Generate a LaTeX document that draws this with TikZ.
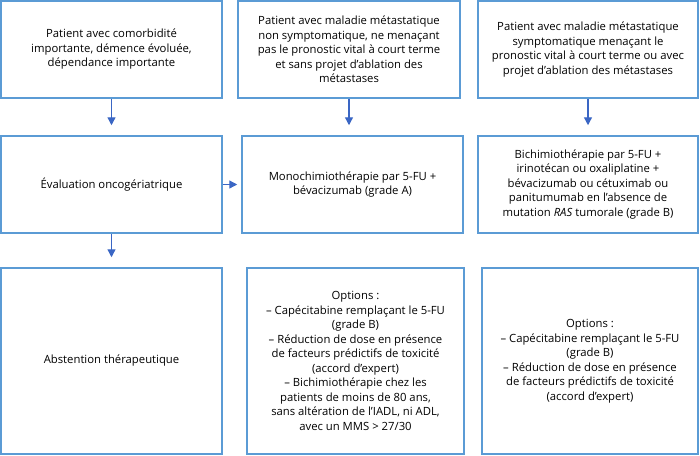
\documentclass[tikz,border=0pt]{standalone}
\usepackage{fontspec}
\setmainfont{Open Sans}
\usetikzlibrary{arrows.meta}
\definecolor{boxblue}{HTML}{5B9BD5}
\definecolor{arrblue}{HTML}{3A66C4}
\tikzset{
  box/.style={draw=boxblue, line width=1.5pt, rectangle, align=center,
    inner sep=0pt, font=\fontsize{11.3}{14.5}\selectfont, text=black},
  arr/.style={draw=arrblue, line width=1.3pt, -{Triangle[length=8pt,width=8pt]}}
}
\begin{document}
\begin{tikzpicture}[x=1pt,y=-1pt]
\useasboundingbox (0,0) rectangle (700,455);
\node[box, minimum width=221pt, minimum height=97pt] (b1) at (111.5,49.5)
  {Patient avec comorbidité\\importante, démence évoluée,\\dépendance importante};
\node[box, minimum width=222pt, minimum height=97pt] (b2) at (349,49.5)
  {Patient avec maladie métastatique\\non symptomatique, ne menaçant\\pas le pronostic vital à court terme\\et sans projet d’ablation des\\métastases};
\node[box, minimum width=220pt, minimum height=97pt] (b3) at (588,49.5)
  {Patient avec maladie métastatique\\symptomatique menaçant le\\pronostic vital à court terme ou avec\\projet d’ablation des métastases};
\node[box, minimum width=221pt, minimum height=97pt] (b4) at (111.5,184.5)
  {Évaluation oncogériatrique};
\node[box, minimum width=221pt, minimum height=97pt] (b5) at (352.5,184.5)
  {Monochimiothérapie par 5-FU +\\bévacizumab (grade A)};
\node[box, minimum width=220pt, minimum height=97pt] (b6) at (588,184.5)
  {Bichimiothérapie par 5-FU +\\irinotécan ou oxaliplatine +\\bévacizumab ou cétuximab ou\\panitumumab en l’absence de\\mutation \textit{RAS} tumorale (grade B)};
\node[box, minimum width=221pt, minimum height=186pt] (b7) at (111.5,361)
  {Abstention thérapeutique};
\node[box, minimum width=217pt, minimum height=186pt] (b8) at (355.5,361)
  {Options :\\– Capécitabine remplaçant le 5-FU\\(grade B)\\– Réduction de dose en présence\\de facteurs prédictifs de toxicité\\(accord d’expert)\\– Bichimiothérapie chez les\\patients de moins de 80 ans,\\sans altération de l’IADL, ni ADL,\\avec un MMS > 27/30};
\node[box, minimum width=216pt, minimum height=186pt] (b9) at (590,361)
  {Options :\\– Capécitabine remplaçant le 5-FU\\(grade B)\\– Réduction de dose en présence\\de facteurs prédictifs de toxicité\\(accord d’expert)};
\draw[arr, shorten >=10pt] (b1.south) -- (b4.north);
\draw[arr, shorten >=10pt] (b2.south) -- (b2.south |- b5.north);
\draw[arr, shorten >=10pt] (b3.south) -- (b6.north);
\draw[arr, shorten >=4pt] (b4.east) -- (b5.west);
\draw[arr, shorten >=10pt] (b4.south) -- (b7.north);
\end{tikzpicture}
\end{document}
